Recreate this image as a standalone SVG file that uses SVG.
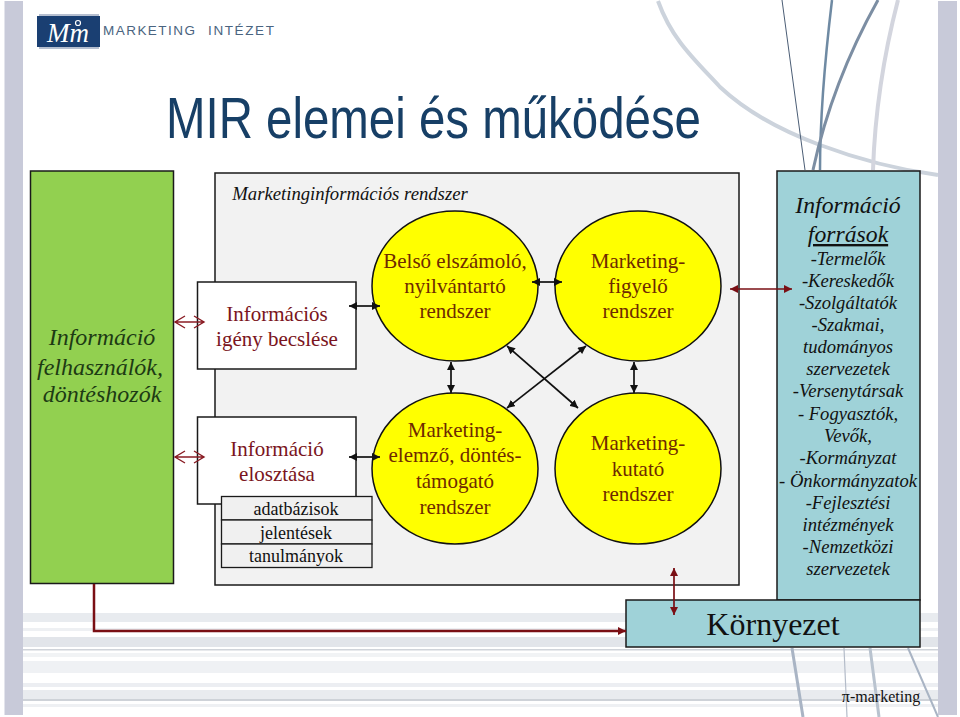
<svg xmlns="http://www.w3.org/2000/svg" width="960" height="717" viewBox="0 0 960 717">
<style>
text{font-family:"Liberation Serif","Times New Roman",serif;text-anchor:middle}
.box{stroke:#1a1a1a;stroke-width:1.5}
.red{fill:#7a1420;font-size:21px}
.yel{fill:#6e2a00;font-size:21px}
.tab{fill:#111;font-size:18px}
.tab-r{fill:#f0f0f0;stroke:#1a1a1a;stroke-width:1.3}
.c{fill:#ffff00;stroke:#111;stroke-width:1.5}
.src{font-style:italic;fill:#111;font-size:18.600px}
.big{font-style:italic;fill:#111;font-size:23.700px}
.usr{font-style:italic;fill:#1d3a14;font-size:24px}
.bk{fill:none;stroke:#111;stroke-width:1.7;marker-start:url(#bs);marker-end:url(#be)}
.rd{fill:none;stroke:#7a0f14;stroke-width:1.7;marker-start:url(#rs);marker-end:url(#re)}
.op{fill:none;stroke:#8a1c24;stroke-width:1.4}
.st{fill:#e8ebef}
.bg{fill:none}
.lg{font-size:13.500px;font-family:"Liberation Sans",sans-serif;text-anchor:start;fill:#4a6480}
</style>
<defs>
<marker id="be" markerUnits="userSpaceOnUse" markerWidth="9" markerHeight="8" refX="8" refY="4" orient="auto"><path d="M0,0L8,4L0,8z" fill="#111"/></marker>
<marker id="bs" markerUnits="userSpaceOnUse" markerWidth="9" markerHeight="8" refX="0" refY="4" orient="auto"><path d="M8,0L0,4L8,8z" fill="#111"/></marker>
<marker id="re" markerUnits="userSpaceOnUse" markerWidth="9" markerHeight="8" refX="8" refY="4" orient="auto"><path d="M0,0L8,4L0,8z" fill="#7a0f14"/></marker>
<marker id="rs" markerUnits="userSpaceOnUse" markerWidth="9" markerHeight="8" refX="0" refY="4" orient="auto"><path d="M8,0L0,4L8,8z" fill="#7a0f14"/></marker>
</defs>
<rect width="960" height="717" fill="#fff"/>
<g id="background">
<rect class="st" x="23" y="613" width="915" height="9"/>
<rect x="23" y="628" width="915" height="3" fill="#eef0f3"/>
<rect x="23" y="637" width="915" height="10" fill="#e2e5ea"/>
<rect x="23" y="649" width="915" height="1.500" fill="#cfd3d9"/>
<rect x="23" y="653" width="915" height="4" fill="#f1f3f5"/>
<rect x="23" y="661" width="915" height="12" fill="#eff1f4"/>
<rect x="23" y="683" width="915" height="4" fill="#eceef2"/>
<rect x="23" y="690" width="915" height="9" fill="#e9ebef"/>
<rect x="23" y="699" width="915" height="2" fill="#ced2d8"/>
<rect x="23" y="704" width="915" height="3" fill="#eef0f3"/>
<path class="bg" d="M792,648L803,717" stroke="#a9b4c4" stroke-width="3"/>
<path class="bg" d="M844,648L847,717" stroke="#b4bcc9" stroke-width="1.200"/>
<path class="bg" d="M870,648L879,717" stroke="#b9c3cf" stroke-width="3"/>
<path class="bg" d="M908,648L938,717" stroke="#a9b4c4" stroke-width="2"/>
<path class="bg" d="M658,1C672,40 695,60 720,87C750,115 785,132 820,145C860,160 900,170 938,175" stroke="#ccd3dc" stroke-width="4"/>
<path class="bg" d="M782,0L805,170" stroke="#4b5d75" stroke-width="1"/>
<path class="bg" d="M832,0C826,50 820,110 820,170" stroke="#6f8aa3" stroke-width="2.500"/>
<path class="bg" d="M878,0C850,50 826,110 813,170" stroke="#7c8ea3" stroke-width="3"/>
<path class="bg" d="M898,0C885,50 875,110 873,170" stroke="#d3d5de" stroke-width="4"/>
<rect x="4.500" y="1" width="18.500" height="714" fill="#c8cad9"/>
<rect x="938" y="1" width="19" height="714" fill="#c8cad9"/>
</g>
<g id="logo">
<rect x="39" y="14" width="60" height="35" fill="#b6bfd0"/>
<rect x="37" y="16" width="63" height="31" fill="#1a3f72"/>
<text x="68" y="42" style="font-size:27px;font-style:italic;fill:#fff">Mm</text>
<circle cx="78" cy="23" r="2.500" fill="none" stroke="#fff" stroke-width="1.200"/>
<text class="lg" x="103" y="35" textLength="92">MARKETING</text>
<text class="lg" x="208" y="35" textLength="66">INTÉZET</text>
</g>
<text id="title" x="166" y="138" textLength="535" lengthAdjust="spacingAndGlyphs" style="font-family:'Liberation Sans',sans-serif;font-size:57px;fill:#173f66;text-anchor:start">MIR elemei és működése</text>
<g id="felhasznalok">
<rect class="box" x="30.500" y="171" width="143" height="412.500" fill="#92d050"/>
<text class="usr" x="102" y="345">Információ</text>
<text class="usr" x="100" y="375">felhasználók,</text>
<text class="usr" x="102" y="402">döntéshozók</text>
</g>
<g id="mir">
<rect class="box" x="215" y="173" width="524" height="412" fill="#f2f2f2"/>
<text x="350" y="200" style="font-size:18.700px;font-style:italic;fill:#111">Marketinginformációs rendszer</text>
</g>
<g id="igeny">
<rect class="box" x="197.500" y="282" width="158.500" height="87" fill="#fff"/>
<text class="red" x="277" y="321">Információs</text>
<text class="red" x="277" y="346">igény becslése</text>
</g>
<g id="elosztas">
<rect class="box" x="197.500" y="417" width="158.500" height="87" fill="#fff"/>
<text class="red" x="277" y="456">Információ</text>
<text class="red" x="277" y="481">elosztása</text>
</g>
<g id="tabla">
<rect class="tab-r" x="221.500" y="496.500" width="150.500" height="23.500"/>
<rect class="tab-r" x="221.500" y="520" width="150.500" height="24"/>
<rect class="tab-r" x="221.500" y="544" width="150.500" height="23.500"/>
<text class="tab" x="296" y="515">adatbázisok</text>
<text class="tab" x="296" y="539">jelentések</text>
<text class="tab" x="296" y="562">tanulmányok</text>
</g>
<g id="belso">
<ellipse class="c" cx="455" cy="286" rx="83" ry="75"/>
<text class="yel" x="455" y="268">Belső elszámoló,</text>
<text class="yel" x="455" y="293">nyilvántartó</text>
<text class="yel" x="455" y="318">rendszer</text>
</g>
<g id="figyelo">
<ellipse class="c" cx="638" cy="286" rx="83" ry="75"/>
<text class="yel" x="638" y="268">Marketing-</text>
<text class="yel" x="638" y="293">figyelő</text>
<text class="yel" x="638" y="318">rendszer</text>
</g>
<g id="elemzo">
<ellipse class="c" cx="455" cy="468.500" rx="83" ry="75.500"/>
<text class="yel" x="455" y="437">Marketing-</text>
<text class="yel" x="455" y="462">elemző, döntés-</text>
<text class="yel" x="455" y="488">támogató</text>
<text class="yel" x="455" y="514">rendszer</text>
</g>
<g id="kutato">
<ellipse class="c" cx="638" cy="468.500" rx="83" ry="75.500"/>
<text class="yel" x="638" y="450">Marketing-</text>
<text class="yel" x="638" y="476">kutató</text>
<text class="yel" x="638" y="501">rendszer</text>
</g>
<g id="forrasok">
<rect class="box" x="777" y="171" width="143" height="429" fill="#9fd2d8"/>
<text class="big" x="848" y="213">Információ</text>
<text class="big" x="848" y="242" style="text-decoration:underline">források</text>
<text class="src" x="848" y="265">-Termelők</text>
<text class="src" x="848" y="287">-Kereskedők</text>
<text class="src" x="848" y="309">-Szolgáltatók</text>
<text class="src" x="848" y="331">-Szakmai,</text>
<text class="src" x="848" y="353">tudományos</text>
<text class="src" x="848" y="375">szervezetek</text>
<text class="src" x="848" y="397">-Versenytársak</text>
<text class="src" x="848" y="420">- Fogyasztók,</text>
<text class="src" x="848" y="442">Vevők,</text>
<text class="src" x="848" y="464">-Kormányzat</text>
<text class="src" x="848" y="487">- Önkormányzatok</text>
<text class="src" x="848" y="509">-Fejlesztési</text>
<text class="src" x="848" y="531">intézmények</text>
<text class="src" x="848" y="553">-Nemzetközi</text>
<text class="src" x="848" y="575">szervezetek</text>
</g>
<g id="kornyezet">
<rect class="box" x="626" y="600" width="294" height="47" fill="#9fd2d8"/>
<text x="773" y="635" style="font-size:32px;fill:#111">Környezet</text>
</g>
<g id="connectors">
<path class="op" d="M185,316L175,322L185,328M175,322H204M194,316L204,322L194,328"/>
<path class="op" d="M185,451L175,457L185,463M175,457H204M194,451L204,457L194,463"/>
<path class="bk" d="M349,306H380"/>
<path class="bk" d="M349,457H380"/>
<path class="bk" d="M532,282H562"/>
<path class="bk" d="M451,362V393"/>
<path class="bk" d="M634,362V393"/>
<path class="bk" d="M507,346L578,408"/>
<path class="bk" d="M586,346L507,408"/>
<path class="rd" d="M730,289H792"/>
<path class="rd" d="M674,568V615"/>
<path d="M94,584V631H626" fill="none" stroke="#7a0f14" stroke-width="2.500" marker-end="url(#re)"/>
</g>
<text id="footer" x="881" y="702" style="font-size:16px;fill:#111">π-marketing</text>
</svg>
